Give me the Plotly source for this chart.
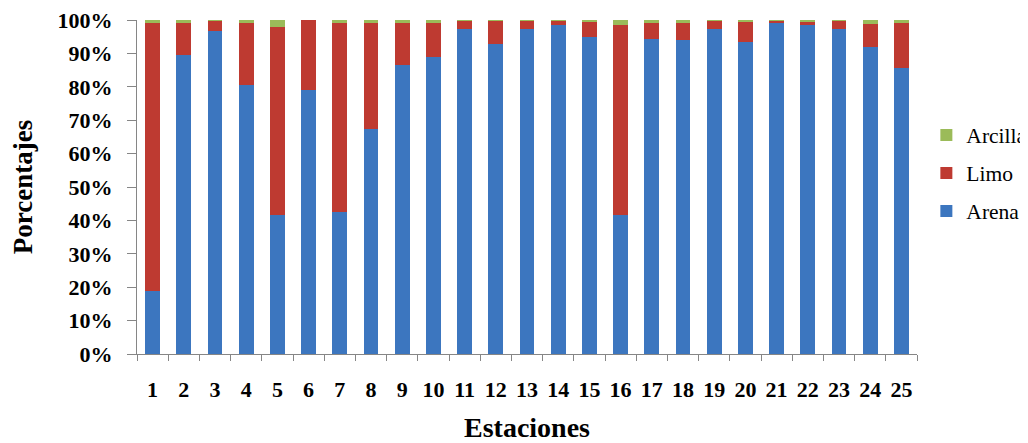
import plotly.graph_objects as go

estaciones = [str(i) for i in range(1, 26)]
arena = [19.0, 89.5, 96.8, 80.5, 41.5, 79.0, 42.5, 67.5, 86.5, 89.0, 97.3, 92.7, 97.3,
         98.5, 95.0, 41.5, 94.2, 94.0, 97.3, 93.3, 99.2, 98.4, 97.3, 91.8, 85.5]
limo = [80.0, 9.5, 3.0, 18.5, 56.5, 21.0, 56.5, 31.5, 12.5, 10.0, 2.5, 7.0, 2.5,
        1.2, 4.5, 57.0, 5.0, 5.0, 2.5, 6.0, 0.6, 1.2, 2.5, 7.0, 13.5]
arcilla = [100 - a - l for a, l in zip(arena, limo)]

font_family = "Liberation Serif, Times New Roman, serif"

fig = go.Figure()
fig.add_trace(go.Bar(x=estaciones, y=arena, name="Arena", marker_color="#3C76BF",
                     marker_line_width=0, legendgroup="a", legendrank=3))
fig.add_trace(go.Bar(x=estaciones, y=limo, name="Limo", marker_color="#BE3A31",
                     marker_line_width=0, legendgroup="l", legendrank=2))
fig.add_trace(go.Bar(x=estaciones, y=arcilla, name="Arcilla", marker_color="#9BBB59",
                     marker_line_width=0, legendgroup="c", legendrank=1))

fig.update_layout(
    barmode="stack",
    bargap=0.52,
    width=1020, height=435,
    margin=dict(l=129, r=111, t=12, b=89, autoexpand=False),
    plot_bgcolor="white", paper_bgcolor="white",
    font=dict(family=font_family, color="black"),
    legend=dict(traceorder="grouped", x=1.012, y=0.717, xanchor="left", yanchor="top",
                font=dict(family=font_family, size=21.5, color="black"),
                itemwidth=30, tracegroupgap=7),
    xaxis=dict(
        type="category",
        automargin=False,
        tickson="boundaries",
        tickangle=0,
        ticks="outside", ticklen=6, tickcolor="#868686",
        showline=True, linecolor="#868686", linewidth=1,
        ticklabelstandoff=16,
        ticklabeloverflow="allow",
        tickfont=dict(family=font_family, size=22, color="black", weight="bold"),
        title=dict(text="<b>Estaciones</b>", font=dict(family=font_family, size=28), standoff=21),
    ),
    yaxis=dict(
        range=[0, 100],
        automargin=False,
        tickvals=[0, 10, 20, 30, 40, 50, 60, 70, 80, 90, 100],
        ticktext=[f"{v}%" for v in range(0, 101, 10)],
        ticks="outside", ticklen=9, tickcolor="#868686",
        showline=True, linecolor="#868686", linewidth=1,
        showgrid=False, zeroline=False,
        ticklabelstandoff=10,
        ticklabeloverflow="allow",
        tickfont=dict(family=font_family, size=22, color="black", weight="bold"),
        title=dict(text="<b>Porcentajes</b>", font=dict(family=font_family, size=27), standoff=25),
    ),
)

fig.write_html("out.html")
